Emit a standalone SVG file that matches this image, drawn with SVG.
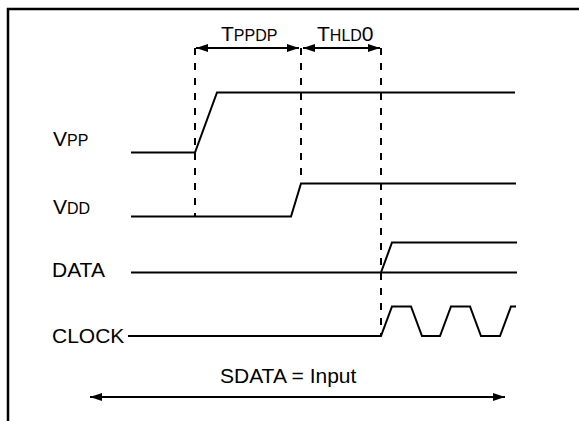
<svg xmlns="http://www.w3.org/2000/svg" width="579" height="421" viewBox="0 0 579 421">
<style>
.bg{fill:#fff}
.frame{fill:none;stroke:#000;stroke-width:2.5}
.sig{fill:none;stroke:#000;stroke-width:2}
.dash{fill:none;stroke:#000;stroke-width:2;stroke-dasharray:7 8}
.arr{fill:none;stroke:#000;stroke-width:2}
.lbl{font-family:"Liberation Sans",Arial,sans-serif;font-size:21px;fill:#000}
.sm{font-size:16px}
</style>
<defs>
<marker id="ah" markerWidth="14" markerHeight="10" refX="12" refY="5" orient="auto-start-reverse" markerUnits="userSpaceOnUse">
<path d="M0,1 L12,5 L0,9 Z" fill="#000"/>
</marker>
</defs>
<rect class="bg" x="0" y="0" width="579" height="421"/>
<polyline class="frame" points="8,421 8,9 579,9"/>
<g id="connectors">
<line class="dash" x1="195" y1="48" x2="195" y2="216"/>
<line class="dash" x1="301" y1="48" x2="301" y2="184"/>
<line class="dash" x1="381" y1="48" x2="381" y2="336"/>
<line class="arr" x1="196" y1="48" x2="299" y2="48" marker-start="url(#ah)" marker-end="url(#ah)"/>
<line class="arr" x1="303" y1="48" x2="380" y2="48" marker-start="url(#ah)" marker-end="url(#ah)"/>
<line class="arr" x1="90" y1="397" x2="505" y2="397" marker-start="url(#ah)" marker-end="url(#ah)"/>
</g>
<g id="tppdp"><text class="lbl" x="221" y="41">T<tspan class="sm">PPDP</tspan></text></g>
<g id="thld0"><text class="lbl" x="317" y="41">T<tspan class="sm">HLD</tspan>0</text></g>
<g id="vpp">
<text class="lbl" x="53" y="146">V<tspan class="sm">PP</tspan></text>
<polyline class="sig" points="131,152.5 195,152.5 217,92.5 515,92.5"/>
</g>
<g id="vdd">
<text class="lbl" x="53" y="214">V<tspan class="sm">DD</tspan></text>
<polyline class="sig" points="131,216.5 291,216.5 301,183.5 516,183.5"/>
</g>
<g id="data">
<text class="lbl" x="52" y="277">DATA</text>
<line class="sig" x1="131" y1="272.5" x2="517" y2="272.5"/>
<polyline class="sig" points="381,272.5 392,242.5 517,242.5"/>
</g>
<g id="clock">
<text class="lbl" x="52" y="343">CLOCK</text>
<polyline class="sig" points="128,336 381,336 392,306.5 411,306.5 422,336 440,336 451,306.5 470,306.5 481,336 500,336 511,306.5 516,306.5"/>
</g>
<g id="sdata"><text class="lbl" x="220" y="383">SDATA = Input</text></g>
</svg>
